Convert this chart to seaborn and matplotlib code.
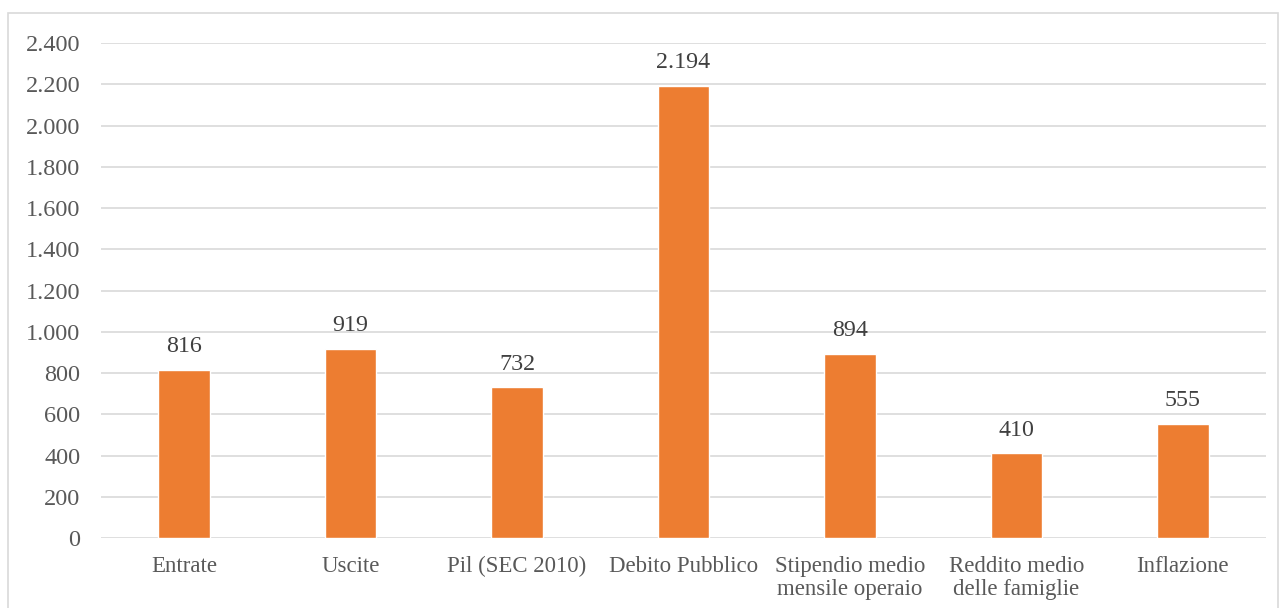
import matplotlib.pyplot as plt
import matplotlib.patches as patches
from matplotlib.ticker import FuncFormatter
import pandas as pd
import seaborn as sns

categorie = ["Entrate", "Uscite", "Pil (SEC 2010)", "Debito Pubblico",
             "Stipendio medio\nmensile operaio", "Reddito medio\ndelle famiglie", "Inflazione"]
valori = [816, 919, 732, 2194, 894, 410, 555]
y_ticks = [0, 200, 400, 600, 800, 1000, 1200, 1400, 1600, 1800, 2000, 2200, 2400]

df = pd.DataFrame({"categoria": categorie, "valore": valori})

sns.set_style("white")
plt.rcParams['font.family'] = ['Liberation Serif', 'DejaVu Serif']

grigio = "#595959"
fig = plt.figure(figsize=(12.82, 6.08), dpi=100)
ax = fig.add_axes([0.0788, 0.1151, 0.9087, 0.8139])

sns.barplot(data=df, x="categoria", y="valore", color="#ED7D31", width=0.31,
            saturation=1, ax=ax, zorder=3)

ax.set_ylim(0, 2400)
ax.set_yticks(y_ticks)
ax.yaxis.set_major_formatter(FuncFormatter(lambda v, p: f"{int(v):,}".replace(",", ".")))
ax.grid(axis="y", color="#D9D9D9", linewidth=1.2, zorder=0)
ax.set_axisbelow(True)
for s in ax.spines.values():
    s.set_visible(False)
ax.tick_params(axis="y", labelsize=17.5, labelcolor=grigio, length=0, pad=15)
ax.tick_params(axis="x", labelsize=16.5, labelcolor=grigio, length=0, pad=13)
for t in ax.get_xticklabels():
    t.set_linespacing(1.12)
ax.set_xlabel("")
ax.set_ylabel("")

for cont in ax.containers:
    ax.bar_label(cont, labels=[f"{int(v):,}".replace(",", ".") for v in valori],
                 padding=9, fontsize=17.3, color="#404040")

fig.patches.append(patches.Rectangle((8 / 1282, -0.01), 1270 / 1282, 1 - 13 / 608 + 0.01,
                                     transform=fig.transFigure, fill=False,
                                     edgecolor="#D9D9D9", linewidth=1.2))

fig.savefig("out.png", dpi=100)
